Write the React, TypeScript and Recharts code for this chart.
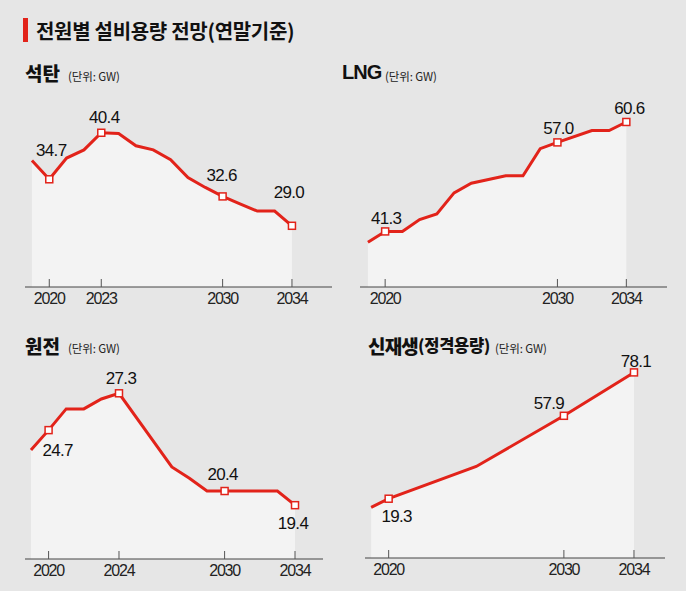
import React from "react";
import { ComposedChart, Area, XAxis, YAxis } from "recharts";

const RED = "#e2231a";
const BG = "#e6e6e6";
const FILL = "#f3f3f3";
const NUM_FONT = "'Liberation Sans', Arial, sans-serif";
const KR_FONT = "'Noto Sans CJK KR', 'Noto Sans', sans-serif";

// 석탄
const coalYears = [2019, 2020, 2021, 2022, 2023, 2024, 2025, 2026, 2027, 2028, 2029, 2030, 2031, 2032, 2033, 2034];
const coalValues = [37.0, 34.7, 37.3, 38.3, 40.4, 40.3, 38.8, 38.3, 37.1, 34.9, 33.7, 32.6, 31.7, 30.8, 30.8, 29.0];
const coalTicks = [2020, 2023, 2030, 2034];

// LNG
const lngYears = [2019, 2020, 2021, 2022, 2023, 2024, 2025, 2027, 2028, 2029, 2030, 2032, 2033, 2034];
const lngValues = [39.4, 41.3, 41.3, 43.4, 44.4, 48.1, 49.8, 51.1, 51.1, 55.9, 57.0, 59.1, 59.1, 60.6];
const lngTicks = [2020, 2030, 2034];

// 원전
const nuclearYears = [2019, 2020, 2021, 2022, 2023, 2024, 2027, 2028, 2029, 2030, 2033, 2034];
const nuclearValues = [23.3, 24.7, 26.2, 26.2, 26.9, 27.3, 22.1, 21.3, 20.4, 20.4, 20.4, 19.4];
const nuclearTicks = [2020, 2024, 2030, 2034];

// 신재생(정격용량)
const renewYears = [2019, 2020, 2025, 2030, 2034];
const renewValues = [15.3, 19.3, 34.3, 57.9, 78.1];
const renewTicks = [2020, 2030, 2034];

type Offsets = Record<number, [number, number]>;

interface PanelProps {
  years: number[];
  values: number[];
  ticks: number[];
  labelOffsets: Offsets;
  left: number;
  top: number;
  height: number;
  margin: { top: number; right: number; bottom: number; left: number };
  axisHeight: number;
  xDomain: [number, number];
  yDomain: [number, number];
}

function YearTick(props: any) {
  const { x, y, payload } = props;
  return (
    <g>
      <line x1={x} y1={y} x2={x} y2={y - 8} stroke="#555" strokeWidth={1} />
      <text
        x={x}
        y={y + 17}
        textAnchor="middle"
        fontFamily={NUM_FONT}
        fontSize={16}
        letterSpacing={-1.2}
        fill="#222"
      >
        {payload.value}
      </text>
    </g>
  );
}

function Panel({ years, values, ticks, labelOffsets, left, top, height, margin, axisHeight, xDomain, yDomain }: PanelProps) {
  const data = years.map((year, i) => ({ year, value: values[i] }));

  const renderDot = (props: any) => {
    const { cx, cy, payload, index } = props;
    if (!ticks.includes(payload.year)) return <g key={`d${index}`} />;
    const [dx, dy] = labelOffsets[payload.year] ?? [0, -15];
    return (
      <g key={`d${index}`}>
        <rect x={cx - 3.5} y={cy - 3.5} width={7} height={7} fill="#fff" stroke={RED} strokeWidth={1.5} />
        <text
          x={cx + dx}
          y={cy + dy}
          textAnchor="middle"
          dominantBaseline="central"
          fontFamily={NUM_FONT}
          fontSize={17}
          letterSpacing={-0.7}
          fill="#111"
        >
          {payload.value.toFixed(1)}
        </text>
      </g>
    );
  };

  return (
    <div style={{ position: "absolute", left, top }}>
      <ComposedChart width={343} height={height} data={data} margin={margin}>
        <YAxis hide type="number" domain={yDomain} />
        <Area
          type="linear"
          dataKey="value"
          stroke={RED}
          strokeWidth={3}
          fill={FILL}
          fillOpacity={1}
          baseValue="dataMin"
          dot={renderDot}
          activeDot={false}
          isAnimationActive={false}
        />
        <XAxis
          dataKey="year"
          type="number"
          domain={xDomain}
          ticks={ticks}
          interval={0}
          height={axisHeight}
          tickSize={0}
          tickMargin={0}
          tickLine={false}
          axisLine={{ stroke: "#444", strokeWidth: 1 }}
          tick={(p: any) => <YearTick {...p} />}
        />
      </ComposedChart>
    </div>
  );
}

function Titles() {
  const unit = (x: number, y: number) => (
    <text x={x} y={y} fontFamily={KR_FONT} fontSize={11.5} letterSpacing={-0.1} dominantBaseline="central" fill="#222">
      (단위: GW)
    </text>
  );
  return (
    <svg width={686} height={591} style={{ position: "absolute", left: 0, top: 0, pointerEvents: "none" }}>
      <rect x={23} y={18} width={5} height={24} fill={RED} />
      <text x={36} y={30} fontFamily={KR_FONT} fontWeight={700} fontSize={20} letterSpacing={-0.3} dominantBaseline="central" fill="#111">
        전원별 설비용량 전망(연말기준)
      </text>

      <text x={25} y={72} fontFamily={KR_FONT} fontWeight={900} fontSize={19} letterSpacing={0} dominantBaseline="central" fill="#111">
        석탄
      </text>
      {unit(68, 76)}

      <text x={342} y={72} fontFamily={NUM_FONT} fontWeight={700} fontSize={20} letterSpacing={-1} dominantBaseline="central" fill="#111">
        LNG
      </text>
      {unit(385, 76)}

      <text x={25} y={345} fontFamily={KR_FONT} fontWeight={900} fontSize={19} letterSpacing={0} dominantBaseline="central" fill="#111">
        원전
      </text>
      {unit(68, 348)}

      <text x={368} y={345} fontFamily={KR_FONT} fontWeight={900} dominantBaseline="central" fill="#111">
        <tspan fontSize={19} letterSpacing={-0.8}>신재생</tspan>
        <tspan fontSize={16.5} letterSpacing={-0.3}>(정격용량)</tspan>
      </text>
      {unit(495, 348)}
    </svg>
  );
}

export default function App() {
  return (
    <div
      style={{
        position: "fixed",
        left: 0,
        top: 0,
        width: 686,
        height: 591,
        background: BG,
        overflow: "hidden",
      }}
    >
      <Panel
        years={coalYears}
        values={coalValues}
        ticks={coalTicks}
        labelOffsets={{ 2020: [2, -29], 2023: [3, -15], 2030: [-1, -21], 2034: [-3, -33] }}
        left={0}
        top={86}
        height={234}
        margin={{ top: 4, right: 11, bottom: 0, left: 25 }}
        axisHeight={33}
        xDomain={[2018.6, 2036.31]}
        yDomain={[21.5, 45.64]}
      />
      <Panel
        years={lngYears}
        values={lngValues}
        ticks={lngTicks}
        labelOffsets={{ 2020: [1, -13], 2030: [1, -14], 2034: [3, -13] }}
        left={343}
        top={86}
        height={234}
        margin={{ top: 4, right: 19, bottom: 0, left: 17 }}
        axisHeight={33}
        xDomain={[2018.54, 2036.36]}
        yDomain={[31.5, 66.24]}
      />
      <Panel
        years={nuclearYears}
        values={nuclearValues}
        ticks={nuclearTicks}
        labelOffsets={{ 2020: [9, 20], 2024: [2, -15], 2030: [-2, -17], 2034: [-2, 18] }}
        left={0}
        top={358}
        height={231}
        margin={{ top: 4, right: 20, bottom: 0, left: 25 }}
        axisHeight={30}
        xDomain={[2018.66, 2035.59]}
        yDomain={[15.6, 29.51]}
      />
      <Panel
        years={renewYears}
        values={renewValues}
        ticks={renewTicks}
        labelOffsets={{ 2020: [8, 18], 2030: [-15, -12], 2034: [2, -11] }}
        left={343}
        top={341}
        height={247}
        margin={{ top: 4, right: 21, bottom: 0, left: 22 }}
        axisHeight={30}
        xDomain={[2018.65, 2035.77]}
        yDomain={[-8.3, 90.86]}
      />
      <Titles />
    </div>
  );
}
